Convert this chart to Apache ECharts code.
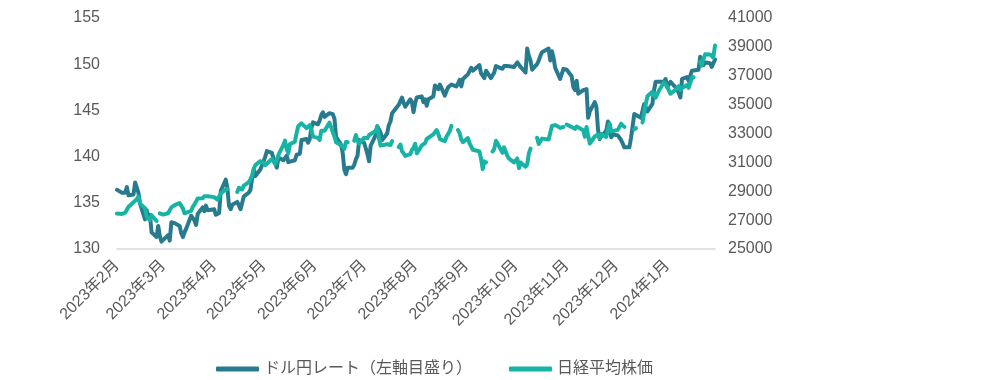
<!DOCTYPE html>
<html><head><meta charset="utf-8">
<script src="https://cdn.jsdelivr.net/npm/echarts@6/dist/echarts.min.js"></script>
<style>html,body{margin:0;padding:0;background:#fff}#c{width:1002px;height:380px}</style>
</head><body><div id="c"></div>
<script>
// ---- data ----
const startDate = '2023-02-24';
const endDate = '2024-02-22';
const tickDates = ['2023-02-24','2023-03-24','2023-04-24','2023-05-24','2023-06-24','2023-07-24',
  '2023-08-24','2023-09-24','2023-10-24','2023-11-24','2023-12-24','2024-01-24'];
const seriesNames = ['ドル円レート（左軸目盛り）', '日経平均株価'];
const leftTicks = {min: 130, max: 155, step: 5};
const rightTicks = {min: 25000, max: 41000, step: 2000};
// one value per weekday from startDate to endDate (null = Tokyo market holiday)
const yenRate = [
  136.4,136.1,136.2,
  136.1,136.7,135.8,135.9,137.2,137.3,136.1,134.9,133.2,134.2,133.4,133.7,131.8,131.3,132.5,131.4,130.8,130.7,131.5,130.9,132.9,132.7,132.8,
  132.5,131.7,131.3,131.8,132.2,133.6,133.7,133.1,132.6,133.8,134.5,134.1,134.7,134.2,134.1,134.3,133.7,133.6,133.9,136.3,
  137.5,136.6,134.7,134.3,134.8,135.1,135.2,134.3,134.5,135.7,136.1,136.4,137.6,138.6,137.9,138.6,138.6,139.5,140.0,140.6,140.4,139.8,139.3,
  138.8,139.9,139.6,139.6,140.1,139.4,139.4,139.6,140.2,140.0,140.3,141.8,141.9,141.5,141.9,143.1,143.7,143.5,143.9,144.5,144.8,144.3,
  144.7,144.6,144.6,144.1,142.1,141.3,140.4,138.6,138.1,138.8,138.8,139.1,139.7,140.1,141.8,141.5,140.9,140.3,139.5,141.2,142.3,
  143.3,143.3,142.6,141.8,142.5,143.4,143.8,144.7,144.9,145.6,145.6,146.4,145.8,145.4,146.2,145.9,144.8,145.8,146.4,146.5,145.9,146.2,145.5,
  146.2,146.5,147.7,147.7,147.3,147.8,146.6,147.1,147.5,147.5,147.8,147.6,147.9,148.3,147.6,148.4,148.9,149.1,149.6,149.3,149.4,
  149.9,149.0,149.1,148.5,149.3,148.5,148.7,149.1,149.8,149.6,149.5,149.8,149.9,149.8,149.9,149.7,149.9,150.2,150.4,149.7,149.1,151.7,
  150.9,150.4,149.4,150.0,150.4,150.9,151.3,151.5,151.7,150.4,151.4,150.7,149.6,148.4,148.4,149.5,149.5,149.4,148.7,147.5,147.2,148.2,
  146.8,147.2,147.1,147.3,144.2,144.9,145.9,145.4,142.9,141.9,142.2,142.8,143.8,143.5,142.1,142.4,142.3,142.5,141.8,141.4,141.0,
  141.0,142.0,143.3,144.6,144.6,144.2,144.4,145.7,145.3,144.9,145.7,147.2,148.1,148.1,148.1,148.1,148.4,147.5,147.6,148.1,147.5,147.6,146.9,
  146.4,148.4,148.6,148.2,148.0,149.3,149.3,149.4,150.8,150.6,149.9,150.2,150.1,149.7,150.1,150.5
];
const nikkei = [
  27453,27424,27446,
  27517,27499,27927,28238,28309,28444,28623,28144,27832,27222,27229,27010,27334,26946,null,27466,27419,27385,27476,27518,27883,27782,28041,
  28188,28287,27813,27472,27518,27633,27923,28082,28157,28493,28514,28658,28606,28657,28564,28593,28620,28416,28457,28856,
  29123,29158,null,null,null,28949,29242,29122,29127,29388,29626,29843,30094,30574,30808,31086,31086,30958,30801,30916,31234,31329,30888,
  31148,31524,32217,32506,31914,31641,32265,32434,33018,33502,33485,33706,33370,33388,33575,33265,32781,32698,32538,33194,33234,33189,
  33753,33422,33338,32773,32388,32189,32203,31943,32419,32391,null,32493,32896,32490,32304,32700,32682,32668,32891,32759,33172,
  33476,32707,32159,32193,32254,32377,32204,32474,null,32059,32238,31766,31626,31451,31566,31857,32010,32288,31625,32170,32227,32333,32619,
  32711,32939,33036,33241,32991,32607,32468,32776,32707,33168,33533,null,33242,33024,32571,32403,32679,32315,32372,31873,31858,
  31760,31238,30527,31075,30995,null,31747,31937,32495,32316,31660,32041,32043,31431,31260,31000,31063,31270,30602,30992,30697,30859,
  31601,31950,null,32708,32272,32166,32646,32568,32585,32696,33520,33424,33585,33389,33354,33452,null,33625,33448,33409,33321,33487,
  33431,33231,32776,33446,32858,32307,32791,32843,32926,32686,32970,32759,33219,33675,33141,33169,33255,33306,33682,33540,33464,
  null,null,null,33288,33377,null,33763,34441,35050,35577,35901,35620,35478,35467,35963,36547,36518,36226,36237,35751,36027,36066,36287,
  36011,36158,36354,36160,36119,36863,36897,null,37963,37703,38157,38487,38470,38364,38262,39098
];
// ---- build ----
function parse(s){const p=s.split('-').map(Number);return new Date(p[0],p[1]-1,p[2]);}
const days=[];
for(let d=parse(startDate); d<=parse(endDate); d.setDate(d.getDate()+1)){ const w=d.getDay(); if(w!==0&&w!==6) days.push(d.getTime()); }
const FONT = "'Liberation Sans','Noto Sans CJK JP',sans-serif";
const GRAY = '#595959';
const C1 = '#287b8e', C2 = '#17b3a4';
const chart = echarts.init(document.getElementById('c'));
chart.setOption({
  animation:false,
  grid:{left:117,right:287,top:18,bottom:131},
  legend:{left:211,top:356,itemWidth:43,itemHeight:5,itemGap:37,icon:'roundRect',
    textStyle:{color:GRAY,fontSize:16,fontFamily:FONT},data:seriesNames},
  xAxis:{type:'value',min:parse(startDate).getTime(),max:parse(endDate).getTime(),
    axisLine:{show:true,onZero:false,lineStyle:{color:'#d9d9d9',width:1.5}},axisTick:{show:false},splitLine:{show:false},
    axisLabel:{customValues:tickDates.map(s=>parse(s).getTime()),rotate:45,margin:14,hideOverlap:false,
      color:GRAY,fontSize:16,fontFamily:FONT,
      formatter:v=>{const d=new Date(v);return d.getFullYear()+'年'+(d.getMonth()+1)+'月';}}},
  yAxis:[
    {type:'value',min:leftTicks.min,max:leftTicks.max,interval:leftTicks.step,axisLine:{show:false},axisTick:{show:false},splitLine:{show:false},
      axisLabel:{color:GRAY,fontSize:16,fontFamily:FONT,margin:17}},
    {type:'value',min:rightTicks.min,max:rightTicks.max,interval:rightTicks.step,position:'right',axisLine:{show:false},axisTick:{show:false},splitLine:{show:false},
      axisLabel:{color:GRAY,fontSize:16,fontFamily:FONT,margin:13,formatter:v=>String(v)}}
  ],
  series:[
    {name:seriesNames[0],type:'line',yAxisIndex:0,showSymbol:false,symbol:'none',connectNulls:false,
      lineStyle:{color:C1,width:4,cap:'round',join:'round'},itemStyle:{color:C1},
      data:days.map((t,i)=>[t,yenRate[i]])},
    {name:seriesNames[1],type:'line',yAxisIndex:1,showSymbol:false,symbol:'none',connectNulls:false,
      lineStyle:{color:C2,width:4,cap:'round',join:'round'},itemStyle:{color:C2},
      data:days.map((t,i)=>[t,nikkei[i]])}
  ]
});
</script></body></html>
